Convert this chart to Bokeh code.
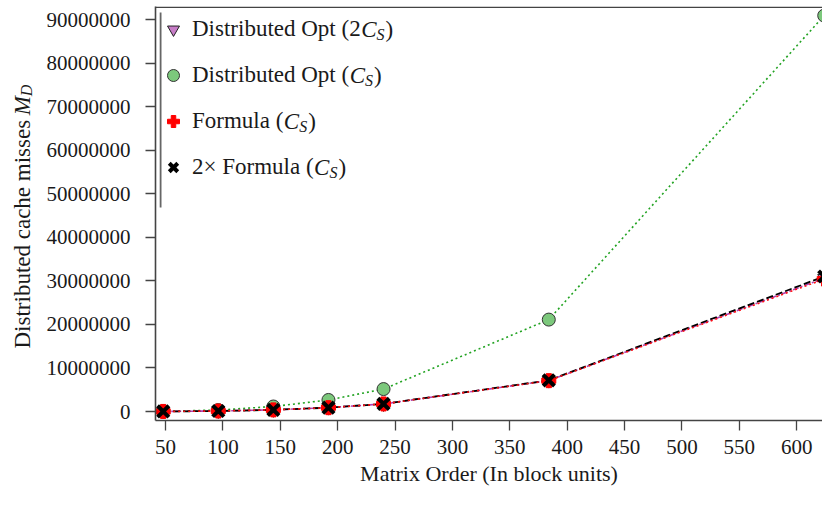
import math
from bokeh.plotting import figure
from bokeh.layouts import row
from bokeh.models import (Range1d, FixedTicker, BasicTickFormatter, Legend, LegendItem,
                          Label, BoxAnnotation, ColumnDataSource)
from bokeh.embed import file_html
from bokeh.resources import INLINE

# ---------------- data ----------------
matrix_order = [48, 96, 144, 192, 240, 384, 624]
dist_opt_2cs = [14000, 110000, 380000, 890000, 1730000, 7100000, 30600000]
dist_opt_cs = [41000, 330000, 1150000, 2650000, 5150000, 21100000, 90900000]
formula_cs = [14000, 110000, 370000, 880000, 1730000, 7080000, 30400000]
formula_2x_cs = [14000, 110000, 375000, 885000, 1750000, 7150000, 31000000]

x_ticks = [50, 100, 150, 200, 250, 300, 350, 400, 450, 500, 550, 600]
y_ticks = [0, 10000000, 20000000, 30000000, 40000000, 50000000,
           60000000, 70000000, 80000000, 90000000]

x_label = "Matrix Order (In block units)"
y_label_main = "Distributed cache misses "
legend_prefix = ["Distributed Opt (2", "Distributed Opt (", "Formula (", "2\u00d7 Formula ("]

# ---------------- style ----------------
FONT = "Liberation Serif"
TXT = "#1a1a1a"
AX = "#444444"
TOTAL_W, H = 822, 493
TITLE_W = 40

src = ColumnDataSource(dict(x=matrix_order, a=dist_opt_2cs, b=dist_opt_cs,
                            c=formula_cs, d=formula_2x_cs))

p = figure(width=TOTAL_W - TITLE_W, height=H, output_backend="svg", toolbar_location=None,
           x_range=Range1d(41.29, 622.5), y_range=Range1d(-2066000, 92985000),
           min_border_left=155 - TITLE_W, min_border_right=0, min_border_top=6,
           min_border_bottom=73)
p.outline_line_color = None
p.grid.visible = False
p.background_fill_color = "white"

# lines
p.line("x", "b", source=src, line_color="#22a322", line_width=1.6, line_dash="2 3")
p.line("x", "a", source=src, line_color="#b33db3", line_width=1.6, line_dash="6 2 2 2")
p.line("x", "d", source=src, line_color="black", line_width=1.8, line_dash="7 3")
p.line("x", "c", source=src, line_color="#ff1010", line_width=1.6, line_dash="2 3")

# markers
r_green = p.scatter("x", "b", source=src, marker="circle", size=13,
                    fill_color="#7cc87c", line_color="#333333", line_width=1)
r_purple = p.scatter("x", "a", source=src, marker="inverted_triangle", size=13,
                     fill_color="#c77dc7", line_color="#222222", line_width=1)
r_red = p.scatter("x", "c", source=src, marker="plus", size=14,
                  fill_color="#ff0000", line_color="#ff0000", line_width=1)
r_black = p.scatter("x", "d", source=src, marker="x", size=16,
                    line_color="black", line_width=4)

# axes
for ax in (p.xaxis, p.yaxis):
    ax.axis_line_color = AX
    ax.axis_line_width = 1.6
    ax.major_tick_line_color = AX
    ax.major_tick_line_width = 1.3
    ax.major_tick_out = 10
    ax.major_tick_in = 0
    ax.minor_tick_line_color = None
    ax.major_label_text_font = FONT
    ax.major_label_text_font_size = "21px"
    ax.major_label_text_color = TXT

p.xaxis.ticker = FixedTicker(ticks=x_ticks)
p.yaxis.ticker = FixedTicker(ticks=y_ticks)
p.yaxis.formatter = BasicTickFormatter(use_scientific=False)
p.xaxis.major_label_standoff = 9
p.yaxis.major_label_standoff = 15
p.xaxis.axis_label = x_label
p.xaxis.axis_label_text_font = FONT
p.xaxis.axis_label_text_font_size = "22px"
p.xaxis.axis_label_text_font_style = "normal"
p.xaxis.axis_label_text_color = TXT
p.xaxis.axis_label_standoff = 4

# top border of the frame and the legend's left rule
p.add_layout(BoxAnnotation(left=0, right=700, bottom=412.4, top=414,
                           left_units="screen", right_units="screen",
                           bottom_units="screen", top_units="screen",
                           fill_color=AX, fill_alpha=1, line_color=None))
p.add_layout(BoxAnnotation(left=4.2, right=6.0, bottom=213, top=408,
                           left_units="screen", right_units="screen",
                           bottom_units="screen", top_units="screen",
                           fill_color="#666666", fill_alpha=1, line_color=None))

# Times / Liberation Serif advance widths (1/1000 em)
W_REG = {"D": 722, "i": 278, "s": 389, "t": 278, "r": 333, "b": 500, "u": 500, "e": 444,
         "d": 500, " ": 250, "O": 722, "p": 500, "(": 333, "2": 500, "F": 556, "o": 500,
         "m": 778, "l": 278, "a": 444, "c": 444, "h": 444, "\u00d7": 564, ")": 333}
W_ITA = {"C": 667, "S": 500, "M": 833, "D": 722}


def width(s, size, table=W_REG):
    return sum(table[ch] for ch in s) * size / 1000.0


# legend (markers + the upright part of each label)
items = [LegendItem(label=legend_prefix[0], renderers=[r_purple]),
         LegendItem(label=legend_prefix[1], renderers=[r_green]),
         LegendItem(label=legend_prefix[2], renderers=[r_red]),
         LegendItem(label=legend_prefix[3], renderers=[r_black])]
LEG_H = 4 * 30 + 3 * 16
legend = Legend(items=items, location=(3, 406 - LEG_H), padding=0, margin=0,
                glyph_width=30, glyph_height=30, spacing=16, label_standoff=4,
                label_text_font=FONT, label_text_font_size="23px", label_text_color=TXT,
                border_line_color=None, background_fill_alpha=0)
p.add_layout(legend)

# italic C_S and closing parenthesis after each legend label
for i, pre in enumerate(legend_prefix):
    yc = 391 - 46 * i
    x0 = 37 + width(pre, 23)
    p.add_layout(Label(x=x0, y=yc, x_units="screen", y_units="screen", text="C",
                       text_font=FONT, text_font_size="23px", text_font_style="italic",
                       text_color=TXT, text_baseline="middle", text_align="left"))
    x1 = x0 + width("C", 23, W_ITA)
    p.add_layout(Label(x=x1, y=yc - 5, x_units="screen", y_units="screen", text="S",
                       text_font=FONT, text_font_size="16px", text_font_style="italic",
                       text_color=TXT, text_baseline="middle", text_align="left"))
    x2 = x1 + width("S", 16, W_ITA) + 1
    p.add_layout(Label(x=x2, y=yc, x_units="screen", y_units="screen", text=")",
                       text_font=FONT, text_font_size="23px",
                       text_color=TXT, text_baseline="middle", text_align="left"))

# y-axis title panel: "Distributed cache misses M_D" (rotated)
t = figure(width=TITLE_W, height=H, output_backend="svg", toolbar_location=None,
           x_axis_type=None, y_axis_type=None, min_border=0,
           x_range=Range1d(0, 1), y_range=Range1d(0, 1))
t.outline_line_color = None
t.grid.visible = False
y0 = 72          # frame bottom of the row is shared with the main plot
bx = 21.5
t.add_layout(Label(x=bx, y=y0, x_units="screen", y_units="screen", text=y_label_main,
                   angle=math.pi / 2, text_font=FONT, text_font_size="23px",
                   text_color=TXT, text_baseline="alphabetic", text_align="left"))
ym = y0 + width(y_label_main, 23)
t.add_layout(Label(x=bx, y=ym, x_units="screen", y_units="screen", text="M",
                   angle=math.pi / 2, text_font=FONT, text_font_size="23px",
                   text_font_style="italic",
                   text_color=TXT, text_baseline="alphabetic", text_align="left"))
yd = ym + width("M", 23, W_ITA)
t.add_layout(Label(x=bx + 4, y=yd, x_units="screen", y_units="screen", text="D",
                   angle=math.pi / 2, text_font=FONT, text_font_size="16px",
                   text_font_style="italic",
                   text_color=TXT, text_baseline="alphabetic", text_align="left"))

layout = row(t, p, spacing=0)
open("out.html", "w").write(file_html(layout, INLINE))
